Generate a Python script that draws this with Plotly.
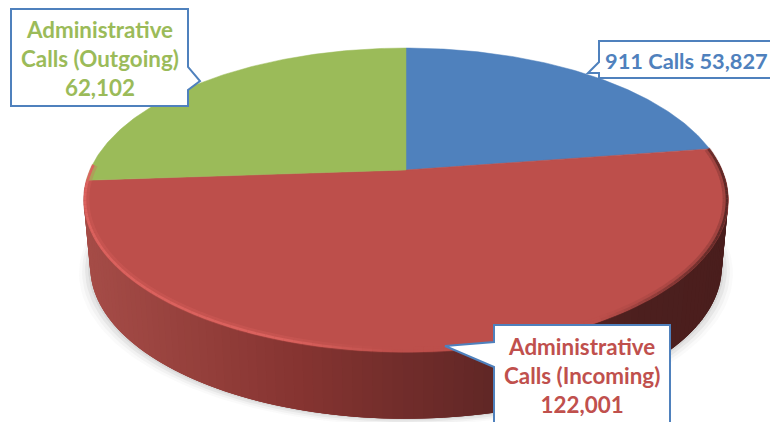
import numpy as np
import plotly.graph_objects as go

# ---- data ----
categories = ["911 Calls", "Administrative Calls (Incoming)", "Administrative Calls (Outgoing)"]
values = [53827, 122001, 62102]
slice_colors = ["#4F81BD", "#BD4F4B", "#9BBB59"]
label_colors = ["#4F81BD", "#C0504D", "#9BBB59"]
label_texts = ["911 Calls 53,827", "Administrative<br>Calls (Incoming)<br>122,001",
               "Administrative<br>Calls (Outgoing)<br>62,102"]
label_sizes = [21.8, 22.4, 22.4]

# ---- projection of the tilted disc onto the page ----
CX, CY, A, B, K = 406.0, 170.0, 316.0, 146.0, 0.197
DEPTH = 67.0
TAPER = 0.98


def project(theta_deg, r=1.0):
    t = np.radians(theta_deg)
    u, v = r * np.sin(t), r * np.cos(t)
    s = 1.0 / (1.0 + K * v)
    return CX + A * u * s, CY - B * v * s


def mix(c1, c2, f):
    a = [int(c1[i:i + 2], 16) for i in (1, 3, 5)]
    b = [int(c2[i:i + 2], 16) for i in (1, 3, 5)]
    return "rgb(%d,%d,%d)" % tuple(round(x + (y - x) * f) for x, y in zip(a, b))


def ramp(x):
    stops_x = [85, 290, 500, 640, 728]
    stops_c = ["#A54C47", "#863431", "#5E2625", "#4C1F1E", "#4A1E1D"]
    i = min(int(np.searchsorted(stops_x, x, side="right")) - 1, len(stops_x) - 2)
    i = max(i, 0)
    return mix(stops_c[i], stops_c[i + 1], (x - stops_x[i]) / (stops_x[i + 1] - stops_x[i]))


fractions = np.cumsum([0] + values) / sum(values) * 360.0
fig = go.Figure()


def poly(x, y, color, line=None):
    fig.add_trace(go.Scatter(x=x, y=y, mode="lines", fill="toself", fillcolor=color,
                             line=dict(width=line or 0, color=color), hoverinfo="skip",
                             showlegend=False))


def lower(x):
    return CX + (x - CX) * TAPER


# soft shadow under the pie
ring = np.linspace(0, 360, 181)
px, py = project(ring)
for grow, alpha in [(11, 0.03), (8, 0.05), (5, 0.07), (2, 0.09)]:
    sx = CX + (px - CX) * (TAPER + grow / 322)
    sy = py + DEPTH + grow * 0.6
    poly(sx, sy, f"rgba(90,90,90,{alpha})")

# side wall, as overlapping vertical strips of the incoming slice
wall = np.arange(fractions[1], 268.0, 1.5)
wx, wy = project(wall)
for i in range(len(wall) - 1, 2, -1):
    j = max(i - 3, 0)
    x0, x1 = wx[i], wx[j]
    c = ramp(wx[i])
    poly([x0, x1, lower(x1), lower(x0), x0],
         [wy[i], wy[j], wy[j] + DEPTH, wy[i] + DEPTH, wy[i]], c)

# top faces
for k in range(3):
    th = np.linspace(fractions[k], fractions[k + 1], 120)
    x, y = project(th)
    poly(np.r_[CX, x, CX], np.r_[CY, y, CY], slice_colors[k], 0.5)

# bevel along the front rim: bright on the left, dark at the far right
rim = np.arange(fractions[1], 272.0, 1.5)
for width, opacity, radius in [(6, 0.3, 0.992), (2.5, 1.0, 0.996)]:
    for i in range(len(rim) - 1):
        x, y = project(rim[i:i + 2], radius)
        if x[0] < 290:
            col = "#DB625E"
        elif x[0] < 400:
            col = mix("#DB625E", "#BD4F4B", (x[0] - 290) / 110)
        elif x[0] < 600:
            col = "#BD4F4B"
        else:
            col = mix("#BD4F4B", "#5E2826", (x[0] - 600) / 125)
        fig.add_trace(go.Scatter(x=x, y=y, mode="lines", line=dict(width=width, color=col),
                                 opacity=opacity, hoverinfo="skip", showlegend=False))

BORDER = "#4F81BD"
outlines = [
    "M599,41 L771,41 L771,78 L599,78 L599,73 L588,73 L599,62 Z",
    "M494,325 L670,325 L670,424 L494,424 L494,367 L445,346 L494,342 Z",
    "M11,9 L188,9 L188,67 L200,81 L188,90 L188,106 L11,106 Z",
]
shapes = [dict(type="path", path=p, xref="x", yref="y", fillcolor="white",
               line=dict(color=BORDER, width=2)) for p in outlines]

positions = [(686, 60), (582, 375), (100, 58)]
annotations = [dict(x=x, y=y, xref="x", yref="y", text=f"<b>{t}</b>", showarrow=False,
                    font=dict(family="Lato", size=s, color=c), align="center",
                    xanchor="center", yanchor="middle")
               for (x, y), t, c, s in zip(positions, label_texts, label_colors, label_sizes)]

fig.update_layout(
    width=770, height=422, margin=dict(l=0, r=0, t=0, b=0),
    paper_bgcolor="white", plot_bgcolor="white", showlegend=False,
    xaxis=dict(range=[0, 770], visible=False, fixedrange=True),
    yaxis=dict(range=[422, 0], visible=False, fixedrange=True),
    shapes=shapes, annotations=annotations,
)
fig.write_html("out.html", config=dict(displayModeBar=False),
               post_script="document.body.style.margin='0';document.documentElement.style.overflow='hidden';")
